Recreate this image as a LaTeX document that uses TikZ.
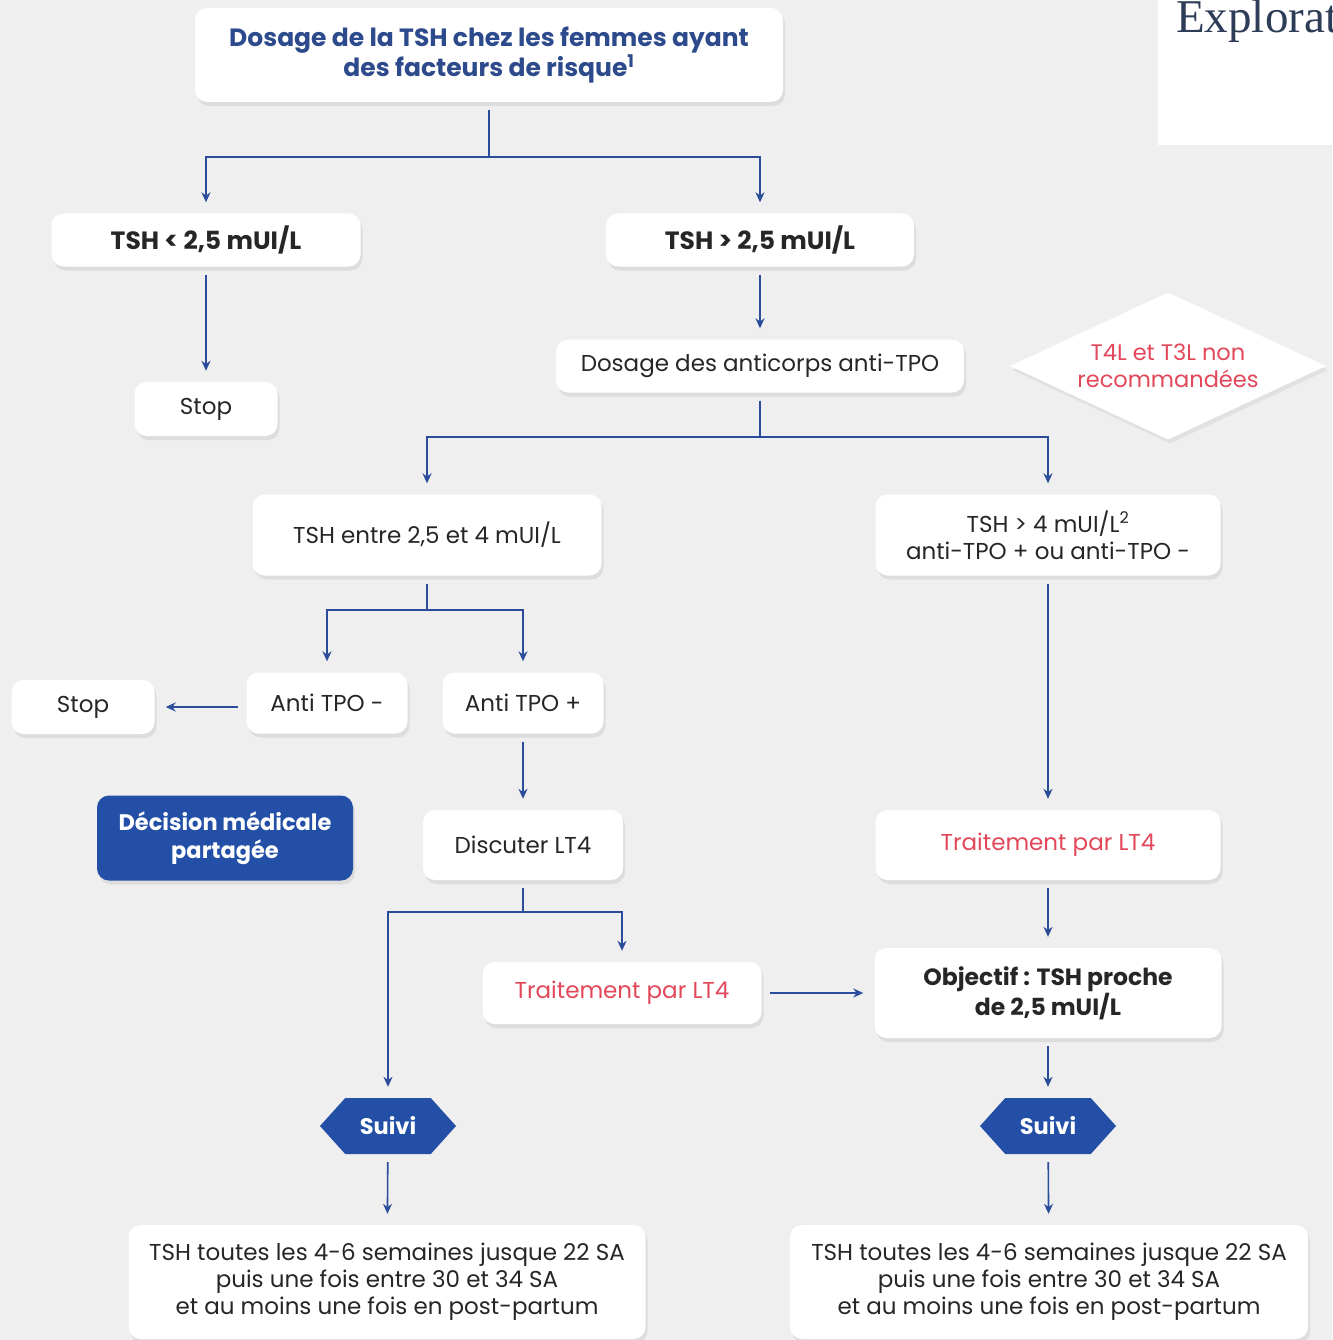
\documentclass[tikz,border=0pt]{standalone}
\usepackage{fontspec}
\setmainfont{Poppins}
\newfontfamily\explofont{Liberation Serif}
\usepackage{tikz}
\usetikzlibrary{arrows.meta,shapes.geometric,shapes.symbols,shadows}

\definecolor{bggray}{HTML}{EFEFEF}
\definecolor{lineblue}{HTML}{2B4C9B}
\definecolor{titleblue}{HTML}{2D4A8C}
\definecolor{boxblue}{HTML}{2350A6}
\definecolor{alertred}{HTML}{E2475A}
\definecolor{inkgray}{HTML}{262626}
\definecolor{explocol}{HTML}{2E3D57}

\tikzset{
  card/.style={fill=white, rounded corners=12pt, align=center, text=inkgray,
    inner sep=0pt, font=\fontsize{23}{27}\selectfont,
    drop shadow={opacity=0.16, shadow xshift=2pt, shadow yshift=-4pt}},
  boldcard/.style={card, font=\bfseries\fontsize{23.5}{27}\selectfont},
  redcard/.style={card, text=alertred},
  bluecard/.style={card, fill=boxblue, text=white, font=\bfseries\fontsize{22.5}{28}\selectfont},
  suivibox/.style={shape=signal, signal to=west and east, signal pointer angle=96,
    fill=boxblue, text=white, inner sep=0pt, minimum width=136pt, minimum height=56pt,
    font=\bfseries\fontsize{22.5}{27}\selectfont},
  note/.style={shape=diamond, fill=white, aspect=2.15, inner sep=0pt,
    minimum width=316pt, minimum height=147pt, align=center, text=alertred,
    font=\fontsize{22.5}{27}\selectfont,
    drop shadow={opacity=0.12, shadow xshift=2pt, shadow yshift=-4pt}},
  link/.style={draw=lineblue, line width=1.6pt, shorten <=8pt, shorten >=11pt,
    -{Stealth[length=10pt,width=9pt]}}
}

\begin{document}
\begin{tikzpicture}[x=1pt, y=-1pt]

    % Background and page size
    \fill[bggray] (0,0) rectangle (1332,1340);
    \useasboundingbox (0,0) rectangle (1332,1340);

    % Cut-off heading in the corner
    \begin{scope}
      \clip (1158,0) rectangle (1332,145);
      \fill[white] (1158,0) rectangle (1332,145);
      \node[anchor=base west, inner sep=0pt, text=explocol,
        font=\explofont\fontsize{47}{47}\selectfont] (explo) at (1176,33) {Explorat};
    \end{scope}

    % Screening
    \node[boldcard, text=titleblue, minimum width=588pt, minimum height=94pt,
      font=\bfseries\fontsize{25}{28}\selectfont] (title) at (489,55)
      {Dosage de la TSH chez les femmes ayant\\des facteurs de risque\textsuperscript{1}};

    % First split on TSH
    \node[boldcard, font=\bfseries\fontsize{25}{27}\selectfont,
      minimum width=309pt, minimum height=53pt] (tshlo) at (206,240) {TSH < 2,5 mUI/L};
    \node[boldcard, font=\bfseries\fontsize{25}{27}\selectfont,
      minimum width=308pt, minimum height=53pt] (tshhi) at (760,240) {TSH > 2,5 mUI/L};
    \node[card, minimum width=143pt, minimum height=54pt] (stopa) at (206,409) {Stop};
    \node[card, minimum width=408pt, minimum height=53pt] (antitpo) at (760,366) {Dosage des anticorps anti-TPO};
    \node[note] (nonrec) at (1168,366) {T4L et T3L non\\recommandées};

    % Second split
    \node[card, minimum width=349pt, minimum height=81pt] (mid) at (427,535) {TSH entre 2,5 et 4 mUI/L};
    \node[card, minimum width=345pt, minimum height=81pt] (high) at (1048,535)
      {TSH > 4 mUI/L\textsuperscript{2}\\anti-TPO + ou anti-TPO -};

    % Anti TPO result
    \node[card, minimum width=143pt, minimum height=54pt] (stopb) at (83,707) {Stop};
    \node[card, minimum width=161pt, minimum height=61pt] (tponeg) at (327,703) {Anti TPO -};
    \node[card, minimum width=161pt, minimum height=61pt] (tpopos) at (523,703) {Anti TPO +};
    \node[bluecard, minimum width=256pt, minimum height=85pt] (shared) at (225,838)
      {Décision médicale\\partagée};
    \node[card, minimum width=200pt, minimum height=70pt] (discuss) at (523,845) {Discuter LT4};

    % Treatment
    \node[redcard, minimum width=345pt, minimum height=70pt] (treatr) at (1048,845) {Traitement par LT4};
    \node[redcard, minimum width=279pt, minimum height=62pt] (treatm) at (622,993) {Traitement par LT4};
    \node[boldcard, minimum width=347pt, minimum height=90pt] (target) at (1048,993)
      {Objectif : TSH proche\\de 2,5 mUI/L};

    % Follow-up
    \node[suivibox] (suivia) at (388,1126) {Suivi};
    \node[suivibox] (suivib) at (1048,1126) {Suivi};
    \node[card, minimum width=517pt, minimum height=114pt] (follwa) at (387,1282)
      {TSH toutes les 4-6 semaines jusque 22 SA\\puis une fois entre 30 et 34 SA\\et au moins une fois en post-partum};
    \node[card, minimum width=518pt, minimum height=114pt] (follwb) at (1049,1282)
      {TSH toutes les 4-6 semaines jusque 22 SA\\puis une fois entre 30 et 34 SA\\et au moins une fois en post-partum};

    % Arrows
    \draw[link] (title.south) -- ++(0,55) -| (tshlo.north);
    \draw[link] (title.south) -- ++(0,55) -| (tshhi.north);
    \draw[link] (tshlo) -- (stopa);
    \draw[link] (tshhi) -- (antitpo);
    \draw[link] (antitpo.south) -- ++(0,44) -| (mid.north);
    \draw[link] (antitpo.south) -- ++(0,44) -| (high.north);
    \draw[link] (mid.south) -- ++(0,34) -| (tponeg.north);
    \draw[link] (mid.south) -- ++(0,34) -| (tpopos.north);
    \draw[link] (tponeg.west |- stopb) -- (stopb.east);
    \draw[link] (tpopos) -- (discuss);
    \draw[link] (high) -- (treatr);
    \draw[link] (discuss.south) -- ++(0,32) -| (treatm.north);
    \draw[link] (discuss.south) -- ++(0,32) -| (suivia.north);
    \draw[link] (treatm) -- (target);
    \draw[link] (treatr) -- (target);
    \draw[link] (target) -- (suivib);
    \draw[link] (suivia) -- (follwa);
    \draw[link] (suivib) -- (follwb);
\end{tikzpicture}
\end{document}
